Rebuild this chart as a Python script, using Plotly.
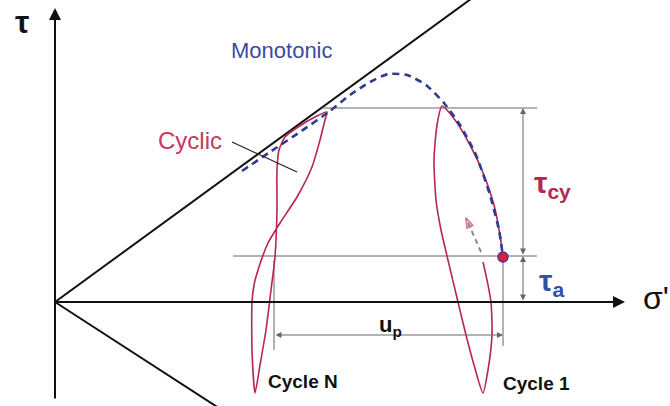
import plotly.graph_objects as go

# ---- stress-path data (sigma' horizontal, tau vertical, arbitrary units) ----
# failure envelopes through the origin
env_up_sigma = [0, 420]
env_up_tau = [0, 306]
env_dn_sigma = [0, 170]
env_dn_tau = [0, -110]

# monotonic (drained) stress path, ending at the initial state
mono_sigma = [187, 215, 245, 275, 295, 315, 333, 352, 371, 389, 405, 421, 435, 444, 448]
mono_tau = [131, 150, 170, 191, 207, 220, 228, 227, 217, 199, 177, 147, 107, 72, 45]

# first cycle: loading along the monotonic path, unloading, reloading
cyc1_sigma = [428, 432, 436, 437, 433, 428, 419, 411, 403, 392, 386, 381, 379, 382, 387,
              400, 415, 429, 439, 445, 448]
cyc1_tau = [40, 22, 0, -33, -68, -91, -63, -33, 0, 46, 72, 102, 142, 177, 196,
            182, 157, 127, 97, 67, 45]

# N-th cycle: butterfly-shaped loop near the failure line
cycN_sigma = [200, 197, 197, 199, 203, 213, 225, 242, 257, 265, 270, 272,
              260, 243, 230, 224, 222, 222, 220, 216, 211, 205, 200]
cycN_tau = [-91, -48, 0, 17, 32, 59, 79, 105, 135, 162, 182, 190,
            185, 175, 165, 152, 132, 92, 45, 12, -28, -63, -91]

# characteristic stress levels and the pore-pressure offset
tau_a = 46
tau_top = 194
start_sigma = 448
start_tau = 45
cycN_sigma_at_ta = 219
up_level = -33

# direction arrow for the first loading
dir_sigma = [426, 411]
dir_tau = [50, 84]

CRIMSON = "#b8264f"
BLUE = "#2d3c94"
GRAY = "#666666"
FONT = "Liberation Sans, Arial, sans-serif"

fig = go.Figure()

# failure envelopes
for xs, ys in ((env_up_sigma, env_up_tau), (env_dn_sigma, env_dn_tau)):
    fig.add_trace(go.Scatter(x=xs, y=ys, mode="lines",
                             line=dict(color="#111111", width=2), hoverinfo="skip"))

# reference levels
fig.add_trace(go.Scatter(x=[267, 482], y=[tau_top, tau_top], mode="lines",
                         line=dict(color=GRAY, width=1), hoverinfo="skip"))
fig.add_trace(go.Scatter(x=[178, 482], y=[tau_a, tau_a], mode="lines",
                         line=dict(color=GRAY, width=1), hoverinfo="skip"))
# extension lines for u_p
fig.add_trace(go.Scatter(x=[cycN_sigma_at_ta, cycN_sigma_at_ta], y=[tau_a - 4, up_level - 15],
                         mode="lines", line=dict(color=GRAY, width=1), hoverinfo="skip"))
fig.add_trace(go.Scatter(x=[start_sigma, start_sigma], y=[start_tau, up_level - 11],
                         mode="lines", line=dict(color=GRAY, width=1), hoverinfo="skip"))

# cyclic loops
fig.add_trace(go.Scatter(x=cycN_sigma, y=cycN_tau, mode="lines",
                         line=dict(color=CRIMSON, width=1.6, shape="spline", smoothing=0.6),
                         hoverinfo="skip"))
fig.add_trace(go.Scatter(x=cyc1_sigma, y=cyc1_tau, mode="lines",
                         line=dict(color=CRIMSON, width=1.6, shape="spline", smoothing=0.6),
                         hoverinfo="skip"))

# monotonic path
fig.add_trace(go.Scatter(x=mono_sigma, y=mono_tau, mode="lines",
                         line=dict(color=BLUE, width=2.6, dash="7px,5px", shape="spline",
                                   smoothing=0.6),
                         hoverinfo="skip"))

# loading direction (dashed shaft with an open head at the upper end)
fig.add_trace(go.Scatter(x=dir_sigma, y=dir_tau, mode="lines",
                         line=dict(color="#8a8a8a", width=2, dash="5px,4px"), hoverinfo="skip"))
fig.add_trace(go.Scatter(x=dir_sigma, y=dir_tau, mode="markers",
                         marker=dict(symbol="arrow-open", size=[0, 10], angleref="previous",
                                     color="#d0406a", line=dict(width=1.8, color="#d0406a")),
                         hoverinfo="skip"))

# initial state
fig.add_trace(go.Scatter(x=[start_sigma], y=[start_tau], mode="markers",
                         marker=dict(size=10, color="#d8203c", line=dict(color="#5a2a9a", width=1.5)),
                         hoverinfo="skip"))

# leader line for "Cyclic"
fig.add_trace(go.Scatter(x=[177, 242], y=[160, 130], mode="lines",
                         line=dict(color="#222222", width=1.2), hoverinfo="skip"))


def arrow(x0, y0, x1, y1, color, width, both=False, head=2, size=1.0):
    fig.add_annotation(x=x1, y=y1, ax=x0, ay=y0, xref="x", yref="y", axref="x", ayref="y",
                       text="", showarrow=True, arrowhead=head, startarrowhead=head,
                       arrowsize=size, startarrowsize=size, arrowwidth=width, arrowcolor=color,
                       arrowside="end+start" if both else "end", standoff=0, startstandoff=0)


# coordinate axes
arrow(0, -98, 0, 294, "#111111", 2, head=2, size=1.2)
arrow(0, 0, 570, 0, "#111111", 2, head=2, size=1.2)
# dimension arrows
arrow(468, tau_a, 468, tau_top, GRAY, 1, both=True, head=2, size=1.2)
arrow(468, 0, 468, tau_a, GRAY, 1, both=True, head=2, size=1.2)
arrow(cycN_sigma_at_ta, up_level, start_sigma, up_level, GRAY, 1, both=True, head=2, size=1.2)


def label(x, y, text, color="#111111", size=17, bold=False, xanchor="center", yanchor="middle"):
    fig.add_annotation(x=x, y=y, xref="x", yref="y", text=f"<b>{text}</b>" if bold else text,
                       showarrow=False, xanchor=xanchor, yanchor=yanchor,
                       font=dict(family=FONT, size=size, color=color))


label(-33, 280, "τ", size=32, bold=True)
label(586, 4, "σ'", size=32, xanchor="left")
label(227, 252, "Monotonic", color="#3a4c9e", size=22)
label(135, 162, "Cyclic", color="#c63a60", size=24)
label(497, 118, "τ<sub>cy</sub>", color="#b8264f", size=30, bold=True)
label(496, 20, "τ<sub>a</sub>", color="#3050aa", size=30, bold=True)
label(335, -24, "u<sub>p</sub>", size=22, bold=True)
label(248, -79, "Cycle N", size=19, bold=True)
label(481, -81, "Cycle 1", size=19, bold=True)

fig.update_layout(
    width=670, height=406, margin=dict(l=0, r=0, t=0, b=0),
    paper_bgcolor="white", plot_bgcolor="white", showlegend=False,
    xaxis=dict(range=[-55, 615], visible=False, fixedrange=True),
    yaxis=dict(range=[-104, 302], visible=False, fixedrange=True),
)

fig.write_html("out.html")
